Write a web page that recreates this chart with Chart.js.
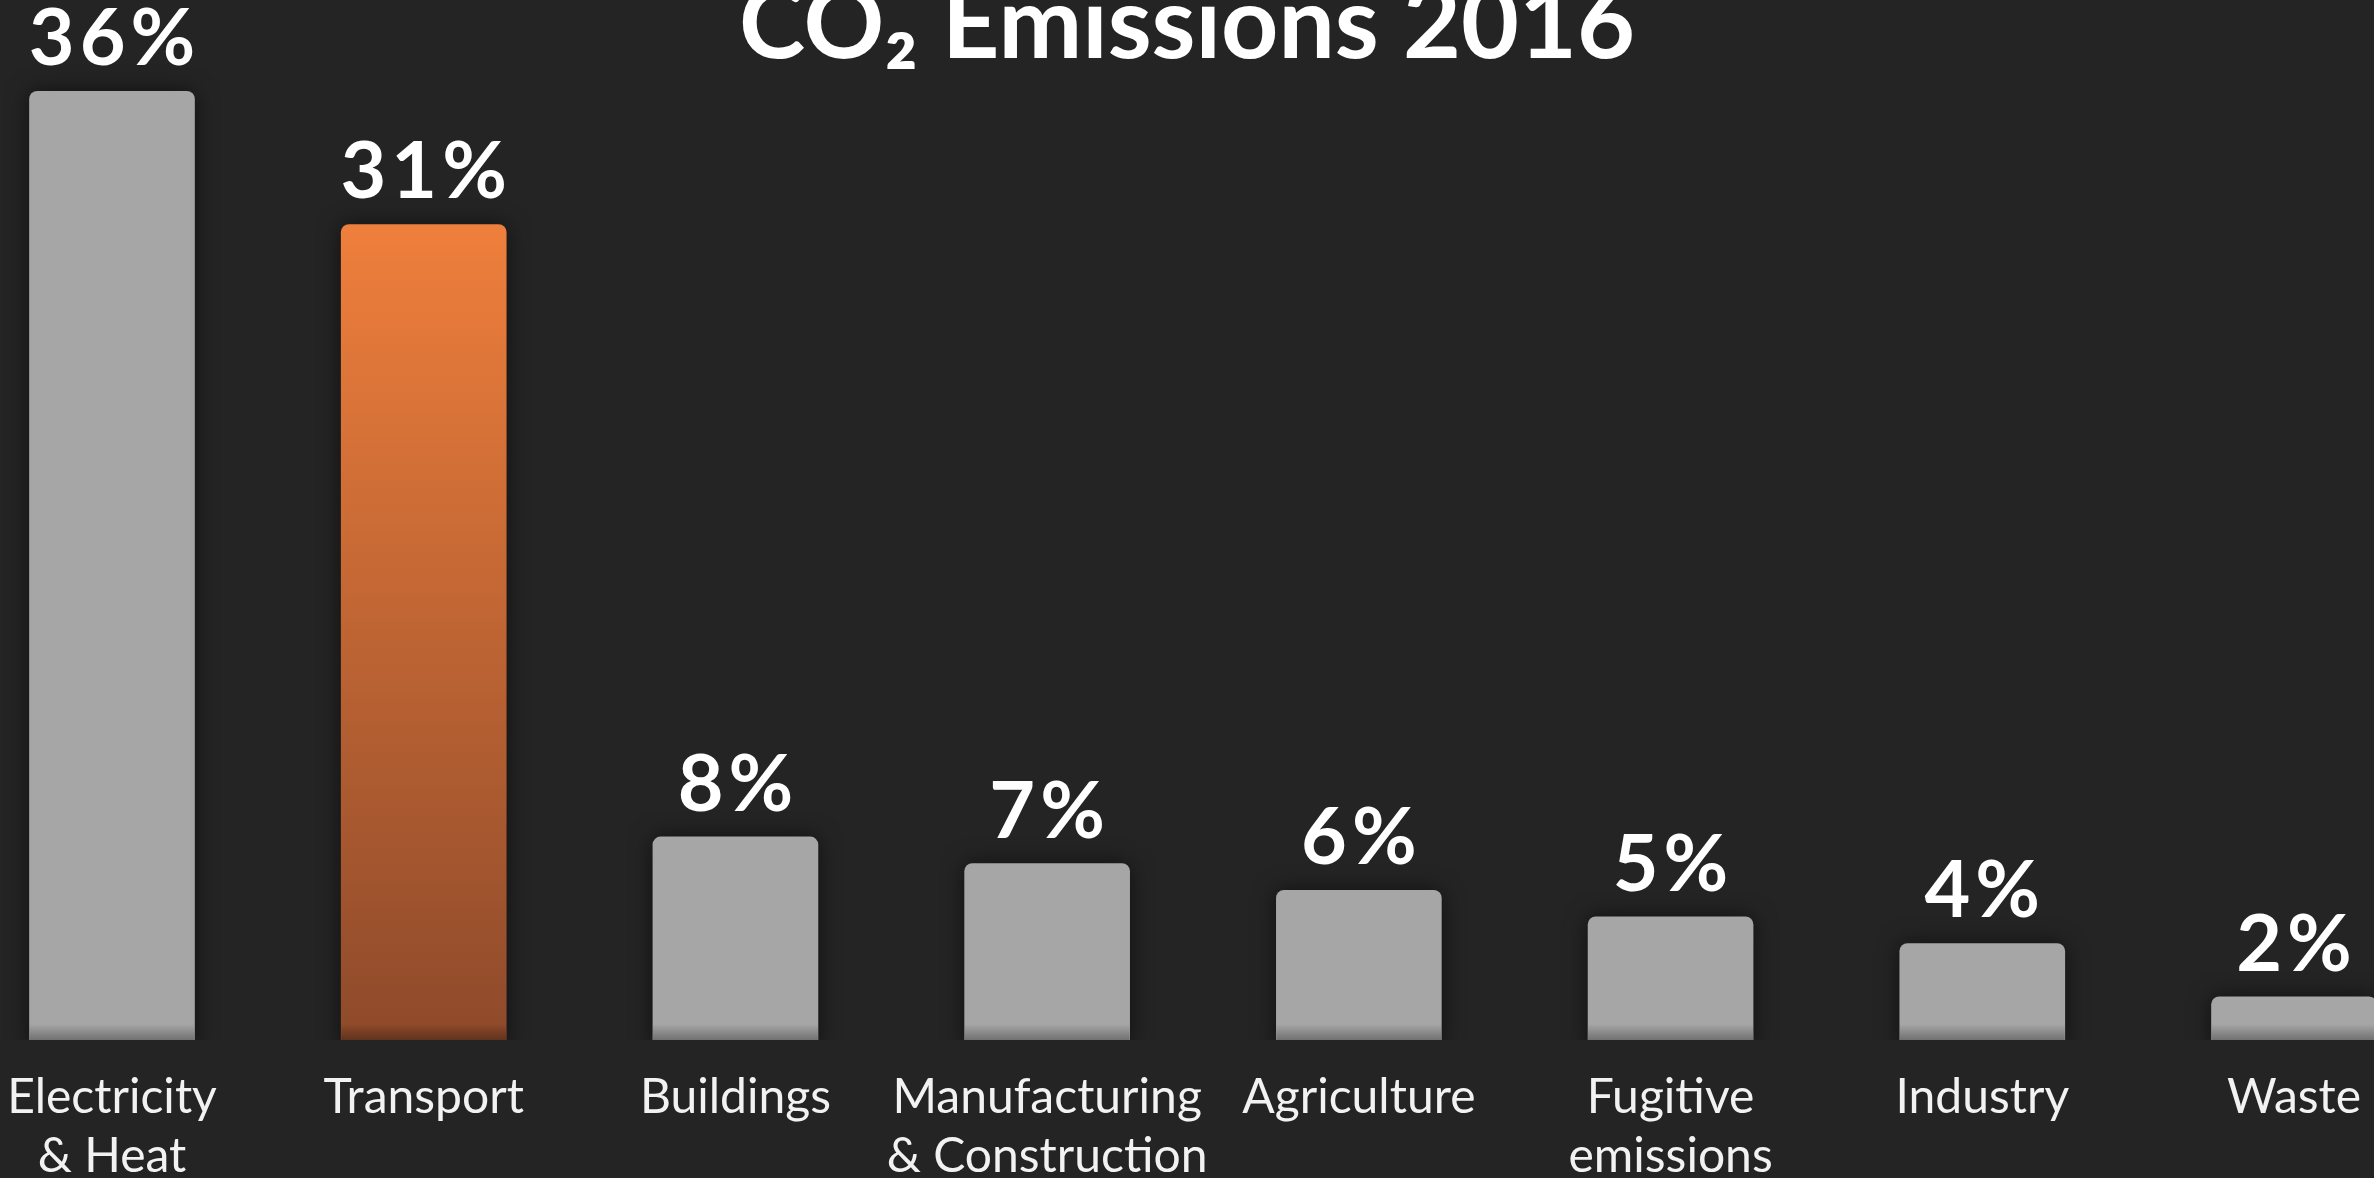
<!DOCTYPE html>
<html>
<head>
<meta charset="utf-8">
<title>CO₂ Emissions 2016</title>
<script src="https://cdn.jsdelivr.net/npm/chart.js@4.4.1/dist/chart.umd.min.js"></script>
<style>
  html, body { margin: 0; padding: 0; background: #242424; overflow: hidden; }
  #wrap { width: 2374px; height: 1178px; position: relative; }
</style>
</head>
<body>
<div id="wrap"><canvas id="co2Chart"></canvas></div>
<script>
// --- data ---
const sectors = [
    ['Electricity', '& Heat'],
    'Transport',
    'Buildings',
    ['Manufacturing', '& Construction'],
    'Agriculture',
    ['Fugitive', 'emissions'],
    'Industry',
    'Waste'
];
const shares = [36, 31, 8, 7, 6, 5, 4, 2];   // percent of total
const highlightIndex = 1;                     // Transport

const GREY = '#a6a6a6';
const ORANGE_TOP = '#ef7f3c';
const ORANGE_BOTTOM = '#8e4a2b';
const FONT = 'Lato, "Open Sans", sans-serif';

function barColor(context) {
    if (context.dataIndex !== highlightIndex) return GREY;
    const chart = context.chart;
    const area = chart.chartArea;
    if (!area) return ORANGE_TOP;
    const top = chart.scales.y.getPixelForValue(shares[highlightIndex]);
    const g = chart.ctx.createLinearGradient(0, top, 0, area.bottom);
    g.addColorStop(0, ORANGE_TOP);
    g.addColorStop(1, ORANGE_BOTTOM);
    return g;
}

// shadow under the bars + darker fade at their foot
const barShadow = {
    id: 'barShadow',
    beforeDatasetsDraw(chart) {
        const ctx = chart.ctx;
        ctx.save();
        ctx.shadowColor = 'rgba(0, 0, 0, 0.55)';
        ctx.shadowBlur = 22;
        ctx.shadowOffsetY = 0;
    },
    afterDatasetsDraw(chart) {
        const ctx = chart.ctx;
        ctx.restore();
        const bottom = chart.chartArea.bottom;
        chart.getDatasetMeta(0).data.forEach(bar => {
            const w = bar.width;
            const g = ctx.createLinearGradient(0, bottom - 16, 0, bottom);
            g.addColorStop(0, 'rgba(0,0,0,0)');
            g.addColorStop(1, 'rgba(0,0,0,0.32)');
            ctx.fillStyle = g;
            ctx.fillRect(bar.x - w / 2, bottom - 16, w, 16);
        });
    }
};

// percentage labels above the bars
const valueLabels = {
    id: 'valueLabels',
    afterDatasetsDraw(chart) {
        const ctx = chart.ctx;
        ctx.save();
        ctx.font = 'bold 79px ' + FONT;
        ctx.letterSpacing = '5px';
        ctx.fillStyle = '#ffffff';
        ctx.textAlign = 'center';
        ctx.textBaseline = 'alphabetic';
        chart.getDatasetMeta(0).data.forEach((bar, i) => {
            ctx.fillText(shares[i] + '%', bar.x + 2.5, bar.y - 26);
        });
        ctx.restore();
    }
};

new Chart(document.getElementById('co2Chart'), {
    type: 'bar',
    data: {
        labels: sectors,
        datasets: [{
            data: shares,
            backgroundColor: barColor,
            borderWidth: 0,
            borderRadius: { topLeft: 8, topRight: 8, bottomLeft: 0, bottomRight: 0 },
            borderSkipped: 'start',
            barThickness: 165,
            clip: { left: false, top: false, right: false, bottom: 0 }
        }]
    },
    options: {
        responsive: true,
        maintainAspectRatio: false,
        animation: false,
        layout: { padding: 0 },
        plugins: {
            legend: { display: false },
            tooltip: { enabled: false },
            title: {
                display: true,
                text: 'CO₂ Emissions 2016',
                color: '#ffffff',
                font: { family: FONT, size: 100, weight: 'bold', lineHeight: 1 },
                padding: { top: -24, bottom: 2 }
            }
        },
        scales: {
            x: {
                offset: false,
                grid: { display: false, drawTicks: false },
                border: { display: false },
                ticks: {
                    color: '#f2f2f2',
                    font: { family: FONT, size: 48, lineHeight: 1.23 },
                    padding: 28,
                    maxRotation: 0,
                    autoSkip: false
                },
                // first and last category sit this far in from the canvas edges
                afterFit(scale) {
                    scale.height = 138;
                    scale.paddingLeft = 112;
                    scale.paddingRight = 80;
                }
            },
            y: {
                display: false,
                min: 0.375,
                max: 36.5
            }
        }
    },
    plugins: [barShadow, valueLabels]
});
</script>
</body>
</html>
